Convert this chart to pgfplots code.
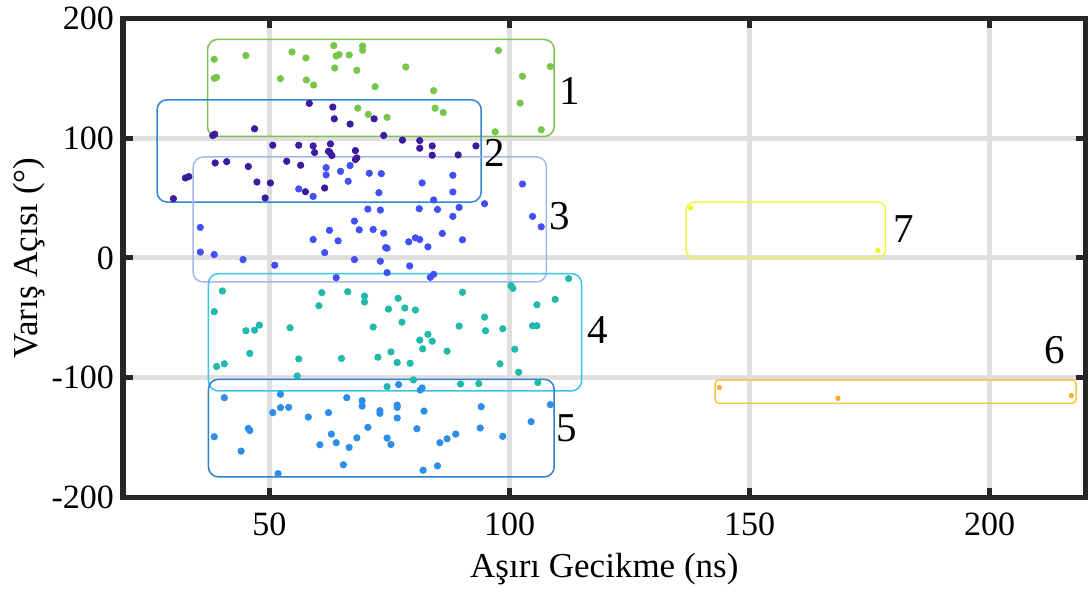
\documentclass[border=0pt]{standalone}
\usepackage{pgfplots}
\pgfplotsset{compat=1.18}
\usepackage{fontspec}
\setmainfont{Liberation Serif}
\definecolor{framecol}{HTML}{262626}
\definecolor{gridcol}{HTML}{DFDFDF}
\definecolor{cA}{HTML}{77C64A}
\definecolor{cB}{HTML}{3D1A9E}
\definecolor{cC}{HTML}{4150F5}
\definecolor{cD}{HTML}{20B9AC}
\definecolor{cE}{HTML}{2C8EE8}
\definecolor{cF}{HTML}{F7B02E}
\definecolor{cG}{HTML}{F2F21F}
\definecolor{bA}{HTML}{7CC250}
\definecolor{bB}{HTML}{2F86D4}
\definecolor{bC}{HTML}{A7B4EA}
\definecolor{bD}{HTML}{3EC0F0}
\definecolor{bE}{HTML}{2D7FCC}
\definecolor{bF}{HTML}{F6C445}
\definecolor{bG}{HTML}{F4F04A}
\begin{document}
\begin{tikzpicture}
\begin{axis}[
  scale only axis,
  width=481.35pt, height=239.75pt,
  xmin=19.5, xmax=220, ymin=-200, ymax=200,
  xtick={50,100,150,200}, xticklabels={50,100,150,200},
  ytick={-200,-100,0,100,200}, yticklabels={-200,-100,0,100,200},
  grid=major,
  major grid style={line width=2.5pt, color=gridcol},
  axis line style={line width=2.5pt, color=framecol},
  every tick/.style={line width=2.5pt, color=framecol},
  major tick length=5pt,
  tick align=inside,
  xtick pos=both, ytick pos=both,
  ticklabel style={font=\fontsize{17}{20}\selectfont, text=black},
  xticklabel style={yshift=-4pt},
  yticklabel style={xshift=-1pt},
  xlabel={Aşırı Gecikme (ns)},
  ylabel={Varış Açısı (°)},
  label style={font=\fontsize{17.5}{21}\selectfont},
  xlabel style={at={(axis description cs:0.5,-0.148)}, anchor=center},
  ylabel style={at={(axis description cs:-0.0976,0.5)}, anchor=center},
  clip=false,
]
\addplot[only marks, mark=*, mark size=1.6pt, color=cA, mark options={draw=cA, fill=cA}] coordinates {
(38.5,165.7)(45.1,168.8)(54.7,171.8)(57.6,166.8)(63.4,177.1)(63.9,168.5)(64.5,169.6)(66.6,169.3)(69.4,176.8)(69.4,173.2)(97.7,173)(108.5,159.6)(78.4,159.3)(63.6,158.4)(68.2,156.5)(38.5,149.8)(39.0,150.6)(52.3,149.5)(57.7,148.4)(59.2,144.2)(102.7,151.5)(72.0,142.8)(84.2,139.5)(102.2,129.1)(68.4,124.9)(84.5,124.9)(86.2,121.3)(70.6,119.7)(74.5,117.2)(97.0,105.2)(106.6,106.9)
};
\addplot[only marks, mark=*, mark size=1.6pt, color=cB, mark options={draw=cB, fill=cB}] coordinates {
(58.3,128.9)(63.2,125.8)(63.5,116.0)(66.8,111.6)(71.8,116.0)(46.9,107.7)(38.2,102.1)(38.6,103.2)(73.8,102.1)(77.7,98.2)(81.3,97.9)(50.7,94.0)(56.1,94.0)(59.1,93.4)(59.4,87.9)(62.7,95.1)(62.3,88.9)(62.6,87.9)(63.0,85.4)(67.9,89.5)(81.3,91.5)(83.9,93.4)(83.9,85.6)(89.3,85.9)(93.0,93.4)(67.9,82.0)(68.2,83.4)(38.7,79.2)(41.1,80.3)(45.6,76.2)(53.6,80.6)(56.5,77.3)(32.5,66.7)(33.2,67.8)(47.4,63.3)(50.2,62.5)(61.5,58.3)(57.5,55.2)(30.0,49.4)(49.1,50.0)
};
\addplot[only marks, mark=*, mark size=1.6pt, color=cC, mark options={draw=cC, fill=cC}] coordinates {
(61.8,75.3)(61.8,69.2)(64.8,72.2)(66.8,77.0)(66.4,63.9)(70.8,70.6)(73.3,70.3)(81.8,62.5)(88.2,68.9)(88.2,55.0)(102.7,61.6)(72.8,54.4)(56.1,57.5)(59.1,51.3)(84.2,48.3)(94.8,45.2)(70.5,40.7)(73.1,39.9)(81.2,41.0)(85.0,40.4)(89.5,42.1)(88.2,34.6)(104.8,34.6)(106.6,25.9)(67.7,30.7)(68.7,23.4)(71.6,23.7)(73.8,20.6)(62.5,23.0)(59.1,15.3)(64.3,14.2)(79.0,13.4)(80.4,16.7)(81.3,15.3)(86.0,20.4)(90.2,15.1)(83.0,9.2)(74.2,8.6)(74.5,8.1)(35.6,25.4)(35.6,4.8)(38.5,2.8)(44.5,-1.4)(51.1,-6.1)(61.5,4.4)(67.7,-1.4)(73.1,-2.8)(79.2,-6.7)(63.9,-16.5)(74.5,-12.3)(83.5,-16.2)(84.2,-13.7)
};
\addplot[only marks, mark=*, mark size=1.6pt, color=cD, mark options={draw=cD, fill=cD}] coordinates {
(112.3,-17.3)(40.2,-27.6)(60.9,-29.0)(66.3,-28.2)(69.8,-31.8)(69.8,-36.8)(60.3,-39.9)(76.8,-33.7)(74.8,-42.7)(78.2,-41.8)(80.4,-43.5)(90.2,-28.7)(100.3,-23.2)(100.7,-25.4)(105.7,-39.1)(109.5,-34.6)(38.5,-44.9)(45.1,-60.8)(46.9,-60.3)(47.9,-56.1)(54.3,-58.3)(71.6,-57.7)(77.6,-53.6)(89.5,-56.9)(94.8,-49.4)(95.0,-60.8)(98.6,-59.1)(104.8,-56.6)(105.7,-56.6)(81.3,-68.6)(83.0,-63.8)(83.9,-69.5)(81.9,-75.9)(87.0,-77.8)(101.1,-76.2)(45.9,-79.7)(39.0,-90.6)(40.6,-88.4)(56.1,-84.3)(65.0,-83.9)(72.6,-82.8)(75.3,-78.4)(76.6,-87.3)(79.3,-87.9)(98.0,-88.4)(101.9,-95.4)(55.8,-98.5)(80.0,-101.8)(74.5,-107.4)(89.8,-105.2)(93.6,-104.9)(105.9,-104.0)
};
\addplot[only marks, mark=*, mark size=1.6pt, color=cE, mark options={draw=cE, fill=cE}] coordinates {
(76.9,-105.7)(81.4,-110.2)(81.8,-108.5)(40.6,-116.6)(52.3,-113.8)(50.7,-129.1)(52.3,-124.9)(54.0,-124.7)(66.1,-116.6)(69.3,-119.1)(69.3,-123.6)(73.0,-127.4)(73.0,-129.7)(76.6,-122.8)(76.6,-124.7)(76.6,-133.6)(82.2,-127.8)(58.1,-132.8)(62.3,-129.1)(94.1,-124.1)(108.5,-122.4)(104.5,-136.6)(38.5,-149.2)(45.6,-142.3)(45.9,-144.0)(44.1,-161.2)(62.9,-147.0)(63.9,-154.2)(60.5,-155.9)(66.6,-158.1)(68.2,-150.1)(70.5,-141.4)(74.5,-150.3)(75.3,-155.6)(80.7,-142.5)(85.5,-154.2)(87.0,-150.9)(88.8,-147.0)(93.9,-141.9)(98.6,-148.9)(65.4,-172.6)(82.0,-177.1)(85.0,-173.5)(51.8,-180.0)
};
\addplot[only marks, mark=*, mark size=1.1pt, color=cF, mark options={draw=cF, fill=cF}] coordinates {
(143.7,-108.2)(168.4,-117.2)(217.0,-114.9)
};
\addplot[only marks, mark=*, mark size=1.1pt, color=cG, mark options={draw=cG, fill=cG}] coordinates {
(137.7,41.8)(176.7,6.1)
};
\draw[bA, line width=0.75pt, rounded corners=5pt] (axis cs:37.1,101.3) rectangle (axis cs:109.3,182.2);
\draw[bB, line width=0.75pt, rounded corners=5pt] (axis cs:26.6,46.6) rectangle (axis cs:94.1,131.9);
\draw[bC, line width=0.75pt, rounded corners=5pt] (axis cs:34.1,-20.1) rectangle (axis cs:107.7,84.2);
\draw[bD, line width=0.75pt, rounded corners=5pt] (axis cs:37.3,-111.0) rectangle (axis cs:115.0,-13.1);
\draw[bE, line width=0.75pt, rounded corners=5pt] (axis cs:37.3,-182.7) rectangle (axis cs:109.3,-101.3);
\draw[bF, line width=0.75pt, rounded corners=2pt] (axis cs:142.8,-121.3) rectangle (axis cs:218.0,-101.8);
\draw[bG, line width=0.75pt, rounded corners=4pt] (axis cs:136.8,0) rectangle (axis cs:178.3,46.6);
\begin{scope}[every node/.style={font=\fontsize{20.5}{24}\selectfont, text=black}]
\node at (axis cs:112.5,139.5) {1};
\node at (axis cs:96.9,87.8) {2};
\node at (axis cs:110.4,35.2) {3};
\node at (axis cs:118.3,-60.0) {4};
\node at (axis cs:111.9,-142.4) {5};
\node at (axis cs:213.5,-77.0) {6};
\node at (axis cs:182.0,24.4) {7};
\end{scope}
\end{axis}
\path ([shift={(-61.5pt,-50pt)}]current axis.south west) rectangle ([shift={(2.65pt,7.75pt)}]current axis.north east);
\end{tikzpicture}
\end{document}
